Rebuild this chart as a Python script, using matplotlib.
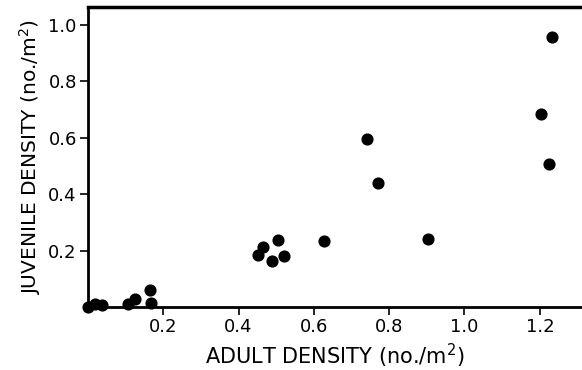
import matplotlib
matplotlib.use("Agg")
import matplotlib.pyplot as plt

# adult density (no./m2) vs juvenile density (no./m2)
adult = [0.0, 0.02, 0.038, 0.107, 0.124, 0.166, 0.168,
         0.453, 0.466, 0.489, 0.506, 0.520, 0.628, 0.740, 0.770,
         0.904, 1.204, 1.224, 1.233]
juvenile = [0.0, 0.01, 0.006, 0.01, 0.027, 0.061, 0.013,
            0.186, 0.213, 0.162, 0.236, 0.180, 0.233, 0.594, 0.440,
            0.240, 0.683, 0.506, 0.956]

x_ticks = [0.2, 0.4, 0.6, 0.8, 1.0, 1.2]
y_ticks = [0.2, 0.4, 0.6, 0.8, 1.0]

plt.rcParams["font.family"] = ["DejaVu Sans"]
plt.rcParams["mathtext.fontset"] = "dejavusans"

fig = plt.figure(figsize=(5.82, 3.70), dpi=100)
ax = fig.add_axes([0.151, 0.170, 0.849, 0.811])

ax.scatter(adult, juvenile, s=60, color="black", zorder=3, clip_on=False)

ax.set_xlim(0, 1.312)
ax.set_ylim(0, 1.062)
ax.set_xticks(x_ticks)
ax.set_yticks(y_ticks)
ax.set_xticklabels([f"{v:.1f}" for v in x_ticks])
ax.set_yticklabels([f"{v:.1f}" for v in y_ticks])
ax.tick_params(direction="out", length=6, width=1.2, labelsize=13, color="black", pad=2)

ax.spines["right"].set_visible(False)
ax.spines["top"].set_linewidth(2.5)
ax.spines["left"].set_linewidth(2)
ax.spines["bottom"].set_linewidth(2)

ax.set_xlabel("ADULT DENSITY (no./m$^{2}$)", fontsize=15, labelpad=4)
ax.set_ylabel("JUVENILE DENSITY (no./m$^{2}$)", fontsize=14.5, labelpad=4)

fig.savefig("out.png", dpi=100)
plt.close()
